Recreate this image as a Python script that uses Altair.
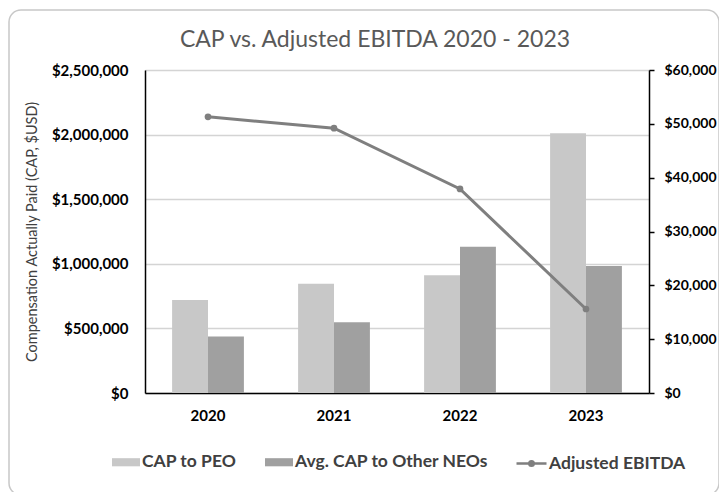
import altair as alt
import pandas as pd

years = ["2020", "2021", "2022", "2023"]
cap_peo = [720000, 845000, 912000, 2010000]
cap_neo = [437000, 548000, 1132000, 983000]
ebitda = [51300, 49200, 37900, 15600]
series_names = ["CAP to PEO", "Avg. CAP to Other NEOs"]
line_name = "Adjusted EBITDA"

bars_df = pd.DataFrame(
    [{"year": y, "series": series_names[0], "value": v} for y, v in zip(years, cap_peo)]
    + [{"year": y, "series": series_names[1], "value": v} for y, v in zip(years, cap_neo)]
)
line_df = pd.DataFrame({"year": years, "ebitda": ebitda, "metric": [line_name] * len(years)})

FONT = "Lato"
TXT = "#404040"

xscale = alt.Scale(domain=years, paddingInner=0.43, paddingOuter=0.215)

frame = alt.Chart(pd.DataFrame({"a": [0]})).mark_rect(
    cornerRadius=12, fillOpacity=0, stroke="#c8c8c8", strokeWidth=1.5
).encode(
    x=alt.value(-136), x2=alt.value(574), y=alt.value(-60), y2=alt.value(425)
)

bars = alt.Chart(bars_df).mark_bar().encode(
    x=alt.X("year:N", scale=xscale, title=None,
            axis=alt.Axis(labelAngle=0, labelFontWeight="bold", labelFontSize=15,
                          labelColor="black", ticks=False, domainColor="black",
                          domainWidth=1.5, labelPadding=15, labelFont=FONT)),
    xOffset=alt.XOffset("series:N", sort=series_names),
    y=alt.Y("value:Q", scale=alt.Scale(domain=[0, 2500000]),
            title="Compensation Actually Paid (CAP, $USD)",
            axis=alt.Axis(orient="left", values=[0, 500000, 1000000, 1500000, 2000000, 2500000],
                          format="$,.0f", labelFontWeight="bold", labelFontSize=15,
                          labelColor="black", ticks=False, domainColor="black",
                          domainWidth=1.5, labelPadding=17, grid=True,
                          gridColor="#d4d4d4", gridWidth=1.5, labelFont=FONT,
                          titleFont=FONT, titleFontWeight="normal", titleFontSize=14.5,
                          titleColor=TXT, titlePadding=12)),
    color=alt.Color("series:N", sort=series_names,
                    scale=alt.Scale(domain=series_names, range=["#c8c8c8", "#a0a0a0"]),
                    legend=alt.Legend(orient="none", legendX=-33, legendY=378,
                                      direction="horizontal", title=None,
                                      symbolType="M-1,-0.29H1V0.29H-1Z", symbolSize=784,
                                      symbolStrokeWidth=0, labelFont=FONT,
                                      labelFontSize=17.5, labelFontWeight="bold",
                                      labelColor=TXT, columnPadding=28, labelOffset=2,
                                      labelLimit=400)),
)

line = alt.Chart(line_df).mark_line(strokeWidth=3, point=alt.OverlayMarkDef(size=45, filled=True)).encode(
    x=alt.X("year:N", scale=xscale),
    y=alt.Y("ebitda:Q", scale=alt.Scale(domain=[0, 60000]), title=None,
            axis=alt.Axis(orient="right", values=[0, 10000, 20000, 30000, 40000, 50000, 60000],
                          format="$,.0f", labelFontWeight="bold", labelFontSize=14,
                          labelColor="black", ticks=True, tickSize=5, tickColor="black",
                          tickWidth=1.5, domainColor="black", domainWidth=1.5,
                          labelPadding=10, grid=False, labelFont=FONT)),
    color=alt.Color("metric:N", scale=alt.Scale(domain=[line_name], range=["#7f7f7f"]),
                    legend=alt.Legend(orient="none", legendX=370, legendY=377,
                                      direction="horizontal", title=None,
                                      symbolType="M-1,0H1M-0.15,0a0.15,0.15 0 1,0 0.3,0a0.15,0.15 0 1,0 -0.3,0",
                                      symbolSize=900, symbolStrokeWidth=2.5,
                                      symbolFillColor="#7f7f7f", labelFont=FONT,
                                      labelFontSize=17.5, labelFontWeight="bold",
                                      labelColor=TXT, labelOffset=1, labelLimit=400)),
)

chart = alt.layer(frame, bars, line).resolve_scale(
    y="independent", color="independent"
).properties(
    width=504, height=323,
    title=alt.TitleParams("CAP vs. Adjusted EBITDA 2020 - 2023", font=FONT, fontSize=23,
                          fontWeight="normal", color="#595959", anchor="middle", dx=-22,
                          offset=-43),
    autosize=alt.AutoSizeParams(type="none"),
    padding={"left": 137, "top": 62, "right": 70, "bottom": 99},
).configure_view(stroke=None).configure(background="white")

chart.save("out.html", embed_options={"renderer": "svg", "actions": False})
